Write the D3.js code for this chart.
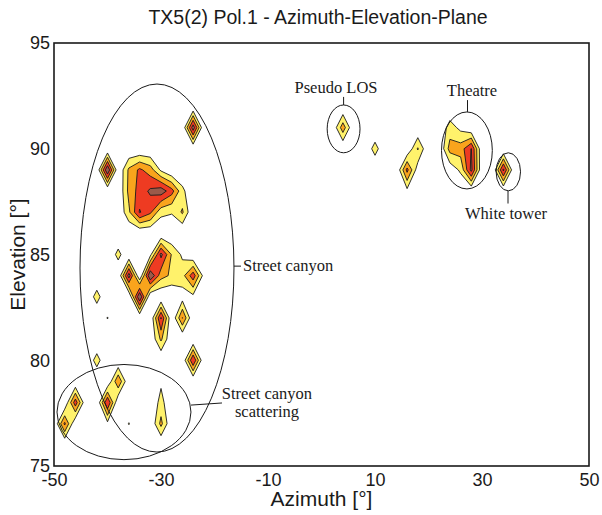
<!DOCTYPE html>
<html>
<head>
<meta charset="utf-8">
<script src="https://cdn.jsdelivr.net/npm/d3@7"></script>
<style>
  body { margin: 0; background: #fff; }
  svg { display: block; }
</style>
</head>
<body>
<div id="chart"></div>
<script>
// Measurement grid: azimuth every 2 deg, elevation every 1 deg.
const azimuthRange = [-50, 50];
const elevationRange = [75, 95];
const azStep = 2;
const elStep = 1;

// Non-zero grid cells [azimuth, elevation, value]; every other cell is 0.
const streetCanyon = [
  [-24, 91, 4.6], [-40, 89, 5.0],
  [-36, 89, 2.2], [-34, 89, 3.2], [-32, 89, 2.5], [-30, 89, 0.8],
  [-36, 88, 2.3], [-34, 88, 3.4], [-32, 88, 4.2], [-30, 88, 4.6], [-28, 88, 3.4], [-26, 88, 1.3],
  [-36, 87, 1.8], [-34, 87, 4.1], [-32, 87, 3.2], [-30, 87, 1.3], [-28, 87, 1.1], [-26, 87, 2.15],
  [-38, 85, 1.35], [-32, 85, 0.7], [-30, 85, 4.3], [-28, 85, 1.9], [-26, 85, 0.8],
  [-36, 84, 4.5], [-32, 84, 5.0], [-30, 84, 2.4], [-28, 84, 1.8], [-26, 84, 1.6], [-24, 84, 3.6], [-22, 84, 0.6],
  [-42, 83, 1.45], [-34, 83, 5.0], [-26, 83, 0.5], [-24, 83, 0.7],
  [-40, 82, 1.05], [-30, 82, 4.1], [-26, 82, 3.05],
  [-30, 81, 2.2],
  [-42, 80, 1.45], [-24, 80, 4.0]
];
const canyonScattering = [
  [-38, 79, 2.9], [-30, 79, 0.8],
  [-46, 78, 3.6], [-40, 78, 4.0], [-30, 78, 1.4],
  [-48, 77, 3.2], [-40, 77, 0.7], [-36, 77, 1.05], [-30, 77, 2.3]
];
const pseudoLos = [[4, 91, 2.6]];
const farScatter = [[10, 90, 1.45], [18, 90, 2.1], [16, 89, 3.3], [18, 89, 0.4], [16, 88, 0.7]];
const theatre = [
  [24, 91, 1.5], [26, 91, 0.7],
  [24, 90, 2.4], [26, 90, 2.5], [28, 90, 4.05],
  [24, 89, 0.3], [26, 89, 1.2], [28, 89, 4.3]
];
const whiteTower = [[34, 89, 4.2]];

const levels = [1, 2, 3, 4];
const levelColors = ["#fff26b", "#f9a41c", "#ee3b22", "#9a5a4a"];

const xTicks = [-50, -30, -10, 10, 30, 50];
const yTicks = [75, 80, 85, 90, 95];

// Annotation ellipses in degrees
const ellipses = [
  { cx: -30.75, cy: 84.36, rx: 14.39, ry: 8.7 },   // street canyon
  { cx: -36.92, cy: 77.55, rx: 12.52, ry: 2.25 },  // street canyon scattering
  { cx: 4.13, cy: 90.94, rx: 3.07, ry: 1.13 },     // pseudo LOS
  { cx: 27.18, cy: 89.92, rx: 4.75, ry: 1.82 },    // theatre
  { cx: 34.92, cy: 88.91, rx: 2.28, ry: 0.9 }      // white tower
];
const leaders = [
  [4.13, 92.07, 4.13, 92.45],
  [27.29, 91.74, 27.29, 92.3],
  [34.86, 88.01, 34.86, 87.41],
  [-16.36, 84.45, -15.05, 84.45],
  [-24.39, 77.88, -18.6, 77.98]
];
const labels = [
  { text: "Pseudo LOS", az: 2.71, el: 92.64, anchor: "middle" },
  { text: "Theatre", az: 28.13, el: 92.49, anchor: "middle" },
  { text: "White tower", az: 34.49, el: 86.7, anchor: "middle" },
  { text: "Street canyon", az: -14.67, el: 84.22, anchor: "start" },
  { text: "Street canyon", az: -10.19, el: 78.17, anchor: "middle" },
  { text: "scattering", az: -10.19, el: 77.32, anchor: "middle" }
];

const width = 602, height = 515;
const margin = { top: 43, right: 13, bottom: 49, left: 54 };

const x = d3.scaleLinear().domain(azimuthRange).range([margin.left, width - margin.right]);
const y = d3.scaleLinear().domain(elevationRange).range([height - margin.bottom, margin.top]);

// Build the value grid
const az0 = azimuthRange[0], el0 = elevationRange[0];
const nx = (azimuthRange[1] - az0) / azStep + 1;
const ny = (elevationRange[1] - el0) / elStep + 1;
const grid = Array.from({ length: ny }, () => new Array(nx).fill(0));
[streetCanyon, canyonScattering, pseudoLos, farScatter, theatre, whiteTower].flat()
  .forEach(([az, el, v]) => {
    grid[Math.round((el - el0) / elStep)][Math.round((az - az0) / azStep)] = v;
  });

// Marching squares per cell (linear interpolation, saddles joined like contourf)
function isoCells(level) {
  const polys = [], segs = [];
  for (let j = 0; j < ny - 1; j++) {
    for (let i = 0; i < nx - 1; i++) {
      const c = [[i, j], [i + 1, j], [i + 1, j + 1], [i, j + 1]];
      const v = c.map(([a, b]) => grid[b][a]);
      const up = v.map(d => d >= level);
      const n = up.filter(Boolean).length;
      if (n === 0) continue;
      const pt = k => [az0 + c[k][0] * azStep, el0 + c[k][1] * elStep];
      const cross = k => {
        const k2 = (k + 1) % 4, t = (level - v[k]) / (v[k2] - v[k]);
        const p = pt(k), q = pt(k2);
        return [p[0] + t * (q[0] - p[0]), p[1] + t * (q[1] - p[1])];
      };
      if (n === 4) { polys.push([0, 1, 2, 3].map(pt)); continue; }
      const saddle = n === 2 && up[0] === up[2];
      let joined = true;
      if (saddle) {
        const hi = v.filter((d, k) => up[k]), lo = v.filter((d, k) => !up[k]);
        joined = (Math.min(...hi) + Math.max(...lo)) / 2 >= level;
      }
      if (saddle && !joined) {
        [0, 1, 2, 3].filter(k => up[k]).forEach(k => {
          const km = (k + 3) % 4;
          polys.push([cross(km), pt(k), cross(k)]);
          segs.push([cross(km), cross(k)]);
        });
        continue;
      }
      const ring = [];
      for (let k = 0; k < 4; k++) {
        if (up[k]) ring.push(pt(k));
        if (up[k] !== up[(k + 1) % 4]) ring.push(cross(k));
      }
      polys.push(ring);
      if (saddle) {
        [0, 1, 2, 3].filter(k => !up[k]).forEach(k => segs.push([cross((k + 3) % 4), cross(k)]));
      } else {
        const e = [0, 1, 2, 3].filter(k => up[k] !== up[(k + 1) % 4]);
        segs.push([cross(e[0]), cross(e[1])]);
      }
    }
  }
  return { polys, segs };
}

const px = p => `${x(p[0]).toFixed(2)},${y(p[1]).toFixed(2)}`;

const svg = d3.select("#chart").append("svg")
  .attr("width", width)
  .attr("height", height)
  .attr("viewBox", [0, 0, width, height]);

const bands = levels.map(isoCells);

// Filled bands
svg.append("g")
  .selectAll("path")
  .data(bands)
  .join("path")
  .attr("fill", (d, i) => levelColors[i])
  .attr("stroke", "none")
  .attr("d", d => d.polys.map(r => "M" + r.map(px).join("L") + "Z").join(""));

// Contour lines
svg.append("g")
  .attr("fill", "none")
  .attr("stroke", "#1a1a1a")
  .attr("stroke-width", 0.9)
  .attr("stroke-linejoin", "round")
  .selectAll("path")
  .data(bands)
  .join("path")
  .attr("d", d => d.segs.map(s => "M" + px(s[0]) + "L" + px(s[1])).join(""));

// Annotations
svg.append("g")
  .attr("fill", "none")
  .attr("stroke", "#1a1a1a")
  .attr("stroke-width", 1)
  .selectAll("ellipse")
  .data(ellipses)
  .join("ellipse")
  .attr("cx", d => x(d.cx))
  .attr("cy", d => y(d.cy))
  .attr("rx", d => x(d.cx + d.rx) - x(d.cx))
  .attr("ry", d => y(d.cy) - y(d.cy + d.ry));

svg.append("g")
  .attr("stroke", "#1a1a1a")
  .attr("stroke-width", 1)
  .selectAll("line")
  .data(leaders)
  .join("line")
  .attr("x1", d => x(d[0])).attr("y1", d => y(d[1]))
  .attr("x2", d => x(d[2])).attr("y2", d => y(d[3]));

svg.append("g")
  .attr("font-family", "'Liberation Serif', 'DejaVu Serif', serif")
  .attr("font-size", 16.5)
  .attr("fill", "#1a1a1a")
  .selectAll("text")
  .data(labels)
  .join("text")
  .attr("x", d => x(d.az))
  .attr("y", d => y(d.el))
  .attr("text-anchor", d => d.anchor)
  .text(d => d.text);

// Frame
svg.append("rect")
  .attr("x", x(azimuthRange[0]))
  .attr("y", y(elevationRange[1]))
  .attr("width", x(azimuthRange[1]) - x(azimuthRange[0]))
  .attr("height", y(elevationRange[0]) - y(elevationRange[1]))
  .attr("fill", "none")
  .attr("stroke", "#1a1a1a")
  .attr("stroke-width", 1.6);

// Axes (plain hyphen minus like the original)
const font = "'Liberation Sans', Arial, sans-serif";
svg.append("g")
  .attr("transform", `translate(0,${y(elevationRange[0])})`)
  .call(d3.axisBottom(x).tickValues(xTicks).tickFormat(d => String(d)).tickSize(0).tickPadding(7))
  .call(g => g.select(".domain").remove())
  .attr("font-family", font)
  .attr("font-size", 18)
  .attr("color", "#1a1a1a");

svg.append("g")
  .attr("transform", `translate(${x(azimuthRange[0])},0)`)
  .call(d3.axisLeft(y).tickValues(yTicks).tickFormat(d => String(d)).tickSize(0).tickPadding(4))
  .call(g => g.select(".domain").remove())
  .attr("font-family", font)
  .attr("font-size", 18)
  .attr("color", "#1a1a1a");

svg.append("text")
  .attr("x", 318)
  .attr("y", 24)
  .attr("text-anchor", "middle")
  .attr("font-family", font)
  .attr("font-size", 19.5)
  .attr("fill", "#1a1a1a")
  .text("TX5(2) Pol.1 - Azimuth-Elevation-Plane");

svg.append("text")
  .attr("x", (x.range()[0] + x.range()[1]) / 2)
  .attr("y", 506)
  .attr("text-anchor", "middle")
  .attr("font-family", font)
  .attr("font-size", 21)
  .attr("fill", "#1a1a1a")
  .text("Azimuth [°]");

svg.append("text")
  .attr("transform", `translate(24.5,${(y.range()[0] + y.range()[1]) / 2}) rotate(-90)`)
  .attr("text-anchor", "middle")
  .attr("font-family", font)
  .attr("font-size", 21)
  .attr("fill", "#1a1a1a")
  .text("Elevation [°]");
</script>
</body>
</html>
